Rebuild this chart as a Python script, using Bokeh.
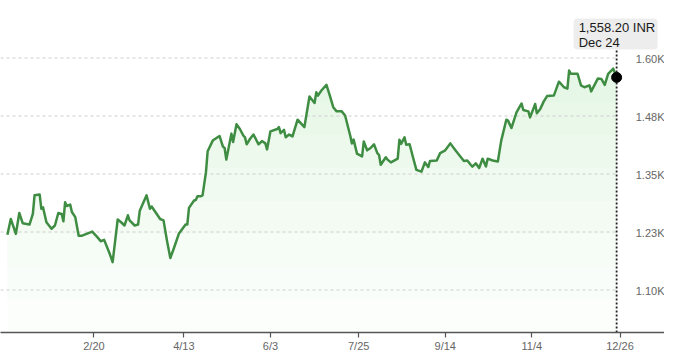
import numpy as np
import pandas as pd
from bokeh.plotting import figure
from bokeh.models import Range1d, FixedTicker, ColumnDataSource, BoxAnnotation, Label
from bokeh.core.properties import value
from bokeh.embed import file_html
from bokeh.resources import INLINE

# ---------------- data ----------------
year_start = "2024-01-01"
day_of_year = [0, 2, 5, 7, 9, 13, 15, 16, 19, 20, 21, 23, 26, 28, 30, 32, 33, 34, 35, 37,
               38, 40, 42, 44, 50, 53, 55, 57, 60, 62, 65, 67, 69, 71, 72, 75, 77, 78, 82, 84,
               85, 90, 92, 94, 96, 98, 101, 105, 106, 107, 110, 111, 112, 114, 115, 117, 118, 121, 125, 127,
               128, 129, 132, 133, 135, 137, 139, 140, 141, 143, 145, 148, 150, 152, 153, 155, 159, 160, 161, 163,
               164, 166, 168, 171, 175, 178, 181, 182, 183, 185, 188, 190, 192, 194, 197, 199, 202, 203, 204, 206,
               209, 210, 212, 214, 216, 218, 219, 220, 223, 224, 226, 230, 231, 232, 234, 235, 237, 239, 241, 244,
               246, 248, 249, 253, 255, 258, 261, 264, 269, 271, 273, 274, 276, 278, 280, 282, 283, 286, 289, 291,
               294, 295, 297, 300, 303, 304, 307, 308, 311, 312, 314, 316, 318, 322, 325, 328, 330, 331, 332, 336,
               338, 340, 343, 344, 348, 350, 352, 354, 357, 359]
close = [1219, 1253, 1221, 1266, 1244, 1241, 1264, 1304, 1306, 1275, 1278, 1246, 1232, 1239, 1266, 1264, 1248, 1289, 1281, 1284,
         1268, 1257, 1217, 1217, 1226, 1214, 1205, 1208, 1181, 1160, 1252, 1246, 1239, 1261, 1250, 1239, 1241, 1271, 1304, 1275,
         1280, 1253, 1250, 1207, 1169, 1189, 1221, 1241, 1241, 1277, 1293, 1294, 1302, 1302, 1304, 1354, 1399, 1422, 1432, 1409,
         1406, 1381, 1437, 1419, 1457, 1447, 1433, 1429, 1414, 1426, 1435, 1414, 1421, 1416, 1403, 1442, 1447, 1451, 1438, 1445,
         1429, 1435, 1431, 1467, 1451, 1517, 1503, 1526, 1519, 1530, 1542, 1519, 1494, 1485, 1485, 1476, 1433, 1416, 1424, 1394,
         1388, 1420, 1401, 1406, 1414, 1395, 1391, 1370, 1386, 1381, 1375, 1383, 1424, 1415, 1429, 1413, 1414, 1386, 1359, 1355,
         1375, 1365, 1378, 1379, 1395, 1401, 1416, 1401, 1378, 1379, 1370, 1366, 1373, 1363, 1383, 1366, 1383, 1379, 1377, 1422,
         1467, 1465, 1449, 1483, 1502, 1488, 1485, 1472, 1501, 1481, 1490, 1506, 1518, 1519, 1549, 1537, 1534, 1573, 1566, 1566,
         1541, 1537, 1541, 1528, 1556, 1555, 1542, 1566, 1577, 1558.20]
currency = "INR"
y_ticks = [1100, 1225, 1350, 1475, 1600]
y_tick_labels = ["1.10K", "1.23K", "1.35K", "1.48K", "1.60K"]
x_tick_dates = ["2024-02-20", "2024-04-13", "2024-06-03", "2024-07-25",
                "2024-09-14", "2024-11-04", "2024-12-26"]
x_tick_labels = ["2/20", "4/13", "6/3", "7/25", "9/14", "11/4", "12/26"]

# ---------------- derived ----------------
DAY_MS = 86400000.0
t0 = pd.Timestamp(year_start).value / 1e6
x_ms = t0 + (np.array(day_of_year, dtype=float) - 1) * DAY_MS
y = np.array(close, dtype=float)
last_x, last_y = x_ms[-1], y[-1]
last_date = pd.Timestamp(year_start) + pd.Timedelta(days=day_of_year[-1] - 1)

FW, FH = 664, 332
PX_PER_DAY = 1.697
x_start = t0 - 5.07 * DAY_MS
x_end = x_start + FW / PX_PER_DAY * DAY_MS
ms_per_px = (x_end - x_start) / FW
y_end = 1600 + 57.5 * (125 / 58)
y_start = y_end - FH * (125 / 58)
v_per_px = (y_end - y_start) / FH

tick_ms = [pd.Timestamp(d).value / 1e6 for d in x_tick_dates]

p = figure(frame_width=FW, frame_height=FH, output_backend="svg", toolbar_location=None,
           x_axis_type="datetime", y_axis_location=None,
           x_range=Range1d(x_start, x_end), y_range=Range1d(y_start, y_end),
           min_border_left=0, min_border_right=0, min_border_top=0, min_border_bottom=0,
           background_fill_color="white", border_fill_color="white")
p.outline_line_color = None
p.xgrid.visible = False
p.ygrid.visible = False

src = ColumnDataSource(dict(x=x_ms, y=y))

# gradient-like area fill
levels = np.linspace(y_start, y.max(), 9)[:-1]
for lv in levels:
    p.varea(x=x_ms, y1=np.minimum(lv, y), y2=y, fill_color="#4caf50", fill_alpha=0.015)

# gridlines (stop at the last point)
p.segment(x0=[x_start] * len(y_ticks), y0=y_ticks, x1=[last_x + 0.6 * DAY_MS] * len(y_ticks), y1=y_ticks,
          line_color="#cdcdcd", line_width=1, line_dash="3 3")

# y tick labels inside the frame, right side
p.text(x=[x_end] * len(y_ticks), y=y_ticks, text=y_tick_labels, text_align="right",
       text_baseline="middle", y_offset=1, text_font=value("Liberation Sans"),
       text_font_size="11px", text_color="#666666")

p.line("x", "y", source=src, line_color="#3f8d42", line_width=2.5, line_join="round")

# tooltip box geometry
box_top = y_end - 18 * v_per_px
box_bottom = y_end - 49 * v_per_px

p.segment(x0=[last_x], y0=[y_start], x1=[last_x], y1=[box_bottom], line_color="#222222",
          line_width=1.8, line_dash="2 2")
p.scatter(x=[last_x], y=[last_y], size=10, fill_color="black", line_color="black")

p.add_layout(BoxAnnotation(left=last_x - 43 * ms_per_px, right=last_x + 41 * ms_per_px,
                           top=box_top, bottom=box_bottom, fill_color="#ededed", fill_alpha=1,
                           line_alpha=0, border_radius=4))
p.add_layout(Label(x=last_x - 38 * ms_per_px, y=y_end - 26.5 * v_per_px,
                   text=f"{last_y:,.2f} {currency}", text_align="left", text_baseline="middle",
                   text_font="Liberation Sans", text_font_size="13px", text_color="#1a1a1a"))
p.add_layout(Label(x=last_x - 38 * ms_per_px, y=y_end - 42 * v_per_px,
                   text=last_date.strftime("%b %d"), text_align="left", text_baseline="middle",
                   text_font="Liberation Sans", text_font_size="13px", text_color="#1a1a1a"))

ax = p.xaxis[0]
ax.ticker = FixedTicker(ticks=tick_ms, minor_ticks=[])
ax.major_label_overrides = {t: lab for t, lab in zip(tick_ms, x_tick_labels)}
ax.axis_line_color = "#555555"
ax.axis_line_width = 1.5
ax.major_tick_line_color = "#555555"
ax.major_tick_line_width = 1.2
ax.major_tick_in = 0
ax.major_tick_out = 5
ax.minor_tick_out = 0
ax.minor_tick_in = 0
ax.major_label_standoff = 2
ax.major_label_text_font = "Liberation Sans"
ax.major_label_text_font_size = "11px"
ax.major_label_text_color = "#666666"

open("out.html", "w").write(file_html(p, INLINE))
